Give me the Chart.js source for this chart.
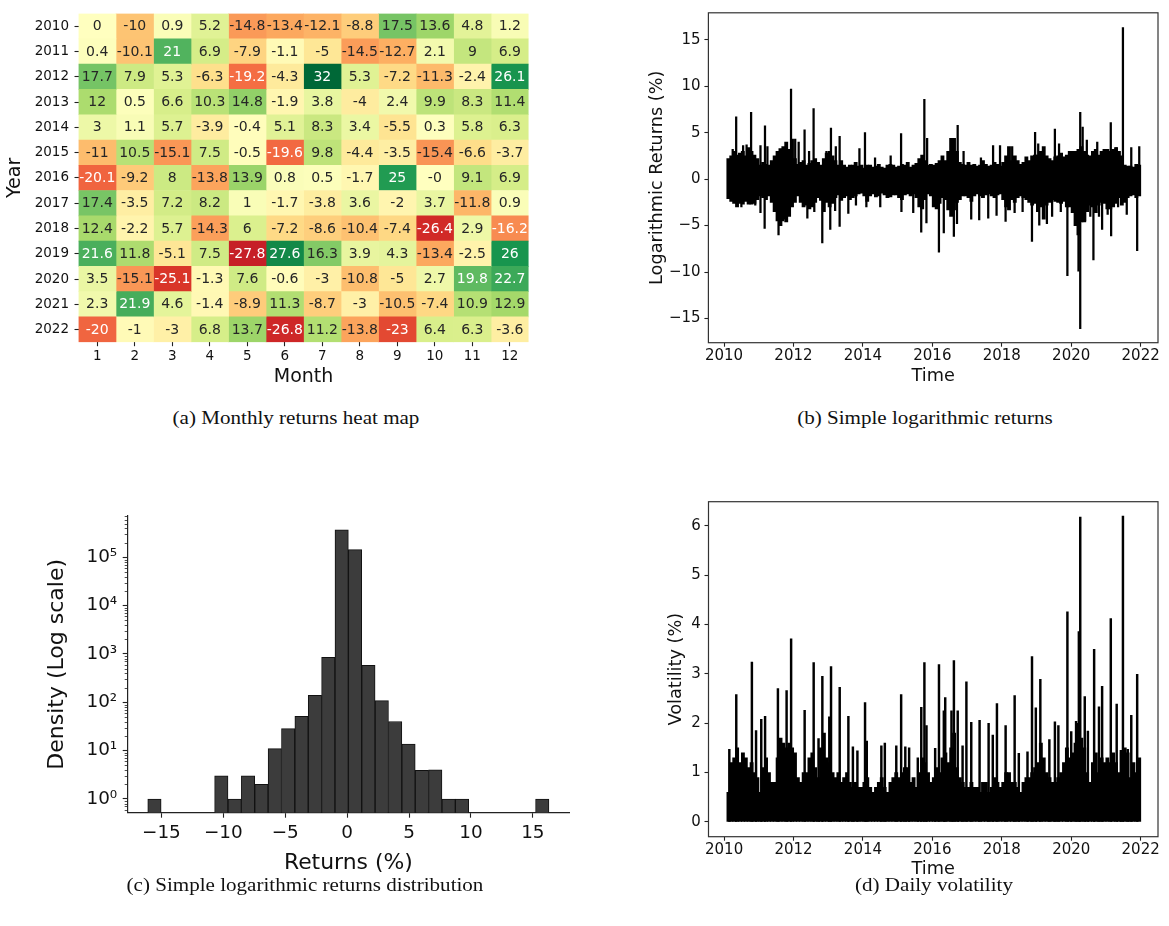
<!DOCTYPE html>
<html>
<head>
<meta charset="utf-8">
<script src="https://cdn.jsdelivr.net/npm/chart.js@4.4.0/dist/chart.umd.min.js"></script>
<style>
  body { margin: 0; background: #fff; width: 1169px; height: 926px; position: relative; overflow: hidden; }
  canvas { position: absolute; }
  .cap { position: absolute; font-family: 'Liberation Serif', 'Times New Roman', serif; font-size: 18px; line-height: 22px;
         color: #111; white-space: nowrap; transform: translateX(-50%) scaleX(1.17); }
</style>
</head>
<body>
<canvas id="heat" width="560" height="388" style="left:0;top:0"></canvas>
<canvas id="ret" width="540" height="387" style="left:630px;top:0"></canvas>
<canvas id="hist" width="600" height="406" style="left:0;top:470px"></canvas>
<canvas id="vol" width="540" height="420" style="left:630px;top:460px"></canvas>
<div class="cap" style="left:296px;top:407px">(a) Monthly returns heat map</div>
<div class="cap" style="left:925px;top:407px">(b) Simple logarithmic returns</div>
<div class="cap" style="left:305px;top:874px">(c) Simple logarithmic returns distribution</div>
<div class="cap" style="left:934px;top:874px">(d) Daily volatility</div>
<script>
// (a) monthly returns heat map
const years = ['2010', '2011', '2012', '2013', '2014', '2015', '2016', '2017', '2018', '2019', '2020', '2021', '2022'];
const months = [1, 2, 3, 4, 5, 6, 7, 8, 9, 10, 11, 12];
const monthly = [
  [0, -10, 0.9, 5.2, -14.8, -13.4, -12.1, -8.8, 17.5, 13.6, 4.8, 1.2],
  [0.4, -10.1, 21, 6.9, -7.9, -1.1, -5, -14.5, -12.7, 2.1, 9, 6.9],
  [17.7, 7.9, 5.3, -6.3, -19.2, -4.3, 32, 5.3, -7.2, -11.3, -2.4, 26.1],
  [12, 0.5, 6.6, 10.3, 14.8, -1.9, 3.8, -4, 2.4, 9.9, 8.3, 11.4],
  [3, 1.1, 5.7, -3.9, -0.4, 5.1, 8.3, 3.4, -5.5, 0.3, 5.8, 6.3],
  [-11, 10.5, -15.1, 7.5, -0.5, -19.6, 9.8, -4.4, -3.5, -15.4, -6.6, -3.7],
  [-20.1, -9.2, 8, -13.8, 13.9, 0.8, 0.5, -1.7, 25, -0, 9.1, 6.9],
  [17.4, -3.5, 7.2, 8.2, 1, -1.7, -3.8, 3.6, -2, 3.7, -11.8, 0.9],
  [12.4, -2.2, 5.7, -14.3, 6, -7.2, -8.6, -10.4, -7.4, -26.4, 2.9, -16.2],
  [21.6, 11.8, -5.1, 7.5, -27.8, 27.6, 16.3, 3.9, 4.3, -13.4, -2.5, 26],
  [3.5, -15.1, -25.1, -1.3, 7.6, -0.6, -3, -10.8, -5, 2.7, 19.8, 22.7],
  [2.3, 21.9, 4.6, -1.4, -8.9, 11.3, -8.7, -3, -10.5, -7.4, 10.9, 12.9],
  [-20, -1, -3, 6.8, 13.7, -26.8, 11.2, -13.8, -23, 6.4, 6.3, -3.6]
];

// (b) daily log returns: monthly band (low / high) from Feb 2010, plus individual spikes
const retHi = [
  2.2, 2.5, 3.0, 2.6, 2.8, 3.0, 2.5, 3.4, 3.0, 2.6, 2.2,
  1.5, 1.8, 1.6, 1.5, 2.0, 2.5, 3.0, 3.3, 3.5, 4.0, 3.2, 4.3,
  2.2, 1.6, 1.8, 2.0, 1.5, 1.7, 2.0, 2.2, 1.8, 1.5, 2.2, 2.8,
  3.0, 2.5, 2.0, 1.5, 2.0, 1.5, 1.3, 1.5, 1.5, 1.8, 1.4, 1.5,
  1.2, 1.5, 1.5, 1.3, 1.4, 1.6, 1.3, 1.2, 1.5, 1.6, 1.5, 1.3,
  1.4, 1.6, 1.5, 1.8, 1.3, 1.5, 1.7, 2.2, 2.6, 2.0, 1.5, 1.6,
  1.5, 1.7, 2.0, 2.5, 2.0, 3.0, 4.4, 4.4, 3.0, 1.8, 1.6, 1.5,
  1.8, 1.5, 1.6, 1.4, 1.5, 2.0, 1.6, 1.4, 1.5, 1.8, 1.6, 1.4,
  1.8, 2.5, 3.5, 2.0, 2.5, 2.0, 1.6, 1.8, 2.4, 2.0, 2.5, 2.6,
  2.6, 3.0, 3.5, 2.5, 2.2, 2.0, 2.4, 2.5, 2.8, 2.4, 2.6, 3.0,
  3.0, 3.0, 3.2, 3.5, 3.0, 2.6, 2.5, 3.0, 3.2, 2.6, 3.0, 3.2,
  3.2, 3.0, 3.2, 3.4, 3.0, 2.5, 1.5, 1.4, 1.4, 1.3, 1.6, 1.5
];
const retLo = [
  -2.1, -2.4, -2.6, -3.0, -2.6, -2.7, -2.4, -2.7, -2.7, -2.6, -2.2,
  -1.8, -2.0, -2.2, -1.8, -2.5, -3.5, -4.5, -5.0, -4.3, -4.6, -4.0, -3.0,
  -2.5, -1.8, -2.5, -3.0, -2.8, -3.2, -3.0, -2.5, -2.0, -2.3, -3.5, -2.5,
  -3.0, -2.6, -2.0, -1.7, -2.3, -2.0, -1.8, -2.2, -2.0, -1.8, -1.6, -1.5,
  -1.8, -2.4, -1.8, -1.6, -1.9, -1.8, -1.5, -1.7, -2.0, -1.9, -1.7, -1.7,
  -2.0, -2.2, -1.7, -1.6, -1.8, -1.6, -2.0, -3.0, -3.2, -2.2, -1.6, -1.8,
  -3.0, -3.2, -2.6, -2.0, -2.2, -3.3, -4.0, -3.3, -2.5, -2.2, -1.8, -1.8,
  -2.0, -2.4, -1.8, -1.6, -1.8, -2.0, -1.7, -1.6, -1.8, -2.0, -1.7, -1.6,
  -2.2, -3.0, -3.3, -2.2, -2.5, -2.0, -1.8, -2.0, -2.2, -2.5, -2.8, -2.6,
  -3.5, -3.0, -4.3, -2.8, -2.5, -2.2, -2.4, -2.5, -2.6, -2.4, -3.0, -3.0,
  -3.6, -5.0, -6.0, -4.6, -4.6, -3.5, -2.8, -3.0, -3.6, -2.8, -2.5, -2.6,
  -3.2, -3.2, -3.0, -2.6, -2.0, -2.8, -2.5, -2.0, -1.8, -1.7, -2.0, -1.8
];
const retSpikeT = [
  2010.25, 2010.35, 2010.55, 2010.65, 2010.78, 2011.05, 2011.18, 2011.25, 2011.80, 2011.93,
  2012.05, 2012.15, 2012.32, 2012.45, 2012.58, 2012.95, 2013.08, 2013.22, 2013.33, 2013.90,
  2014.06, 2014.35, 2014.80, 2015.10, 2015.77, 2015.85, 2016.55, 2016.73, 2016.90, 2017.40,
  2017.75, 2017.95, 2018.30, 2018.96, 2019.05, 2019.53, 2019.65, 2020.05, 2020.26, 2020.33,
  2020.45, 2020.75, 2021.14, 2021.30, 2021.49, 2021.73, 2021.96,
  2010.50, 2010.90, 2011.05, 2011.17, 2011.57, 2011.70, 2012.40, 2012.60, 2012.83, 2013.06,
  2013.20, 2013.33, 2013.58, 2013.80, 2014.10, 2014.50, 2015.11, 2015.45, 2015.68, 2015.83,
  2016.19, 2016.33, 2016.62, 2016.71, 2017.12, 2017.35, 2017.61, 2017.85, 2018.11, 2018.37,
  2018.60, 2018.87, 2019.08, 2019.30, 2019.45, 2019.70, 2019.89, 2020.21, 2020.26, 2020.40,
  2020.55, 2020.64, 2020.80, 2020.89, 2021.05, 2021.15, 2021.35, 2021.60, 2021.90
];
const retSpikeV = [
  3.2, 6.7, 3.6, 3.7, 7.2, 3.6, 5.75, 3.5, 3.6, 9.7,
  4.3, 4.0, 5.3, 3.0, 7.6, 3.0, 5.5, 3.5, 4.6, 3.3,
  5.0, 2.3, 2.5, 4.9, 8.6, 4.4, 4.4, 5.8, 3.0, 2.3,
  3.6, 3.6, 3.5, 5.05, 3.8, 5.4, 3.8, 3.0, 7.2, 5.6,
  4.2, 4.0, 6.1, 3.4, 16.3, 3.4, 3.5,
  -3.0, -2.8, -3.6, -5.3, -6.0, -4.5, -4.2, -3.5, -6.85, -5.4,
  -3.4, -5.1, -3.7, -2.8, -3.0, -3.0, -3.5, -3.6, -5.7, -4.7,
  -7.85, -5.8, -6.15, -4.8, -4.3, -4.4, -4.2, -3.9, -4.55, -3.6,
  -3.5, -6.7, -4.95, -4.8, -4.0, -3.5, -10.4, -9.9, -16.1, -4.5,
  -4.0, -8.7, -4.0, -5.4, -3.8, -6.1, -3.0, -3.8, -7.7
];

// (c) histogram of returns, log density
const histCenters = [-15.56, -14.48, -13.40, -12.32, -11.24, -10.16, -9.08, -8.00, -6.92, -5.84,
  -4.76, -3.68, -2.60, -1.52, -0.44, 0.64, 1.72, 2.80, 3.88, 4.96,
  6.04, 7.12, 8.20, 9.28, 10.36, 11.44, 12.52, 13.60, 14.68, 15.76];
const histDensity = [1, null, null, null, null, 3, 1, 3, 2, 11,
  28.5, 51, 140, 850, 368000, 144000, 583, 108, 40, 13.7,
  3.9, 4, 1, 1, null, null, null, null, null, 1];
const histTicks = [-15, -10, -5, 0, 5, 10, 15];
const logTicks = [1, 10, 100, 1000, 10000, 100000];
const logTickLabels = ['10⁰', '10¹', '10²', '10³', '10⁴', '10⁵'];

// (d) daily volatility: monthly band height from Feb 2010, plus spikes
const volHi = [
  0.6, 1.2, 1.3, 1.5, 1.2, 1.4, 1.3, 1.1, 1.2, 1.0, 0.9,
  0.6, 1.1, 1.3, 1.0, 0.8, 0.8, 1.3, 1.7, 1.6, 1.5, 1.6, 1.5,
  1.4, 0.9, 0.8, 1.0, 1.0, 1.3, 1.4, 1.1, 0.9, 1.5, 1.8, 1.3,
  1.2, 1.0, 0.9, 1.0, 0.8, 0.9, 1.0, 0.8, 0.7, 0.8, 0.7, 0.7,
  0.8, 0.9, 0.7, 0.6, 0.7, 0.8, 0.9, 0.7, 0.6, 0.8, 0.9, 1.0,
  0.9, 1.0, 1.1, 1.1, 0.8, 0.9, 0.7, 1.0, 1.3, 1.2, 1.0, 0.8,
  0.9, 1.1, 1.0, 1.3, 1.4, 1.2, 1.5, 1.8, 1.1, 0.9, 0.8, 0.7,
  0.7, 0.8, 0.7, 0.7, 0.6, 0.8, 0.8, 0.6, 0.7, 0.9, 0.8, 0.7,
  0.8, 1.0, 1.0, 0.8, 0.8, 0.7, 0.6, 0.8, 0.9, 0.9, 1.0, 1.1,
  1.2, 1.6, 1.3, 1.0, 0.9, 0.8, 0.8, 0.9, 1.0, 1.2, 1.5, 1.3,
  1.4, 1.6, 2.0, 1.7, 1.5, 1.0, 0.8, 1.2, 1.4, 1.0, 1.3, 1.2,
  1.3, 1.2, 1.4, 1.2, 1.0, 1.4, 1.5, 1.4, 0.9, 1.2, 1.0, 1.3
];
const volSpikeT = [
  2010.15, 2010.35, 2010.80, 2010.92, 2011.07, 2011.18, 2011.55, 2011.80, 2011.93, 2012.32,
  2012.58, 2012.72, 2012.83, 2013.03, 2013.08, 2013.33, 2013.58, 2013.71, 2013.84, 2014.06,
  2014.11, 2014.53, 2014.63, 2014.96, 2015.10, 2015.22, 2015.33, 2015.58, 2015.68, 2015.77,
  2015.83, 2016.08, 2016.19, 2016.33, 2016.37, 2016.55, 2016.62, 2016.73, 2016.87, 2016.98,
  2017.12, 2017.36, 2017.62, 2017.74, 2017.86, 2018.11, 2018.37, 2018.49, 2018.74, 2018.87,
  2018.98, 2019.11, 2019.37, 2019.53, 2019.63, 2019.89, 2020.00, 2020.14, 2020.22, 2020.26,
  2020.39, 2020.48, 2020.66, 2020.80, 2020.89, 2021.14, 2021.31, 2021.43, 2021.49, 2021.63,
  2021.73, 2021.90
];
const volSpikeV = [
  1.47, 2.58, 3.24, 1.85, 2.08, 2.14, 2.70, 2.66, 3.71, 2.26,
  3.23, 1.69, 2.95, 2.13, 3.15, 2.73, 2.14, 1.52, 1.44, 2.42,
  1.64, 1.54, 1.60, 1.54, 2.58, 1.52, 1.50, 1.30, 2.32, 3.23,
  1.95, 1.49, 3.19, 2.25, 2.52, 2.25, 3.27, 2.25, 1.54, 2.84,
  2.02, 2.06, 2.00, 1.76, 2.40, 1.95, 2.56, 1.39, 1.42, 3.35,
  2.31, 2.89, 1.67, 2.03, 1.95, 4.26, 1.83, 2.04, 3.86, 6.18,
  2.54, 1.84, 3.50, 2.33, 2.75, 4.12, 2.39, 1.45, 6.20, 1.47,
  2.16, 2.99
];

const yearTicks = [2010, 2012, 2014, 2016, 2018, 2020, 2022];
const retTicks = [-15, -10, -5, 0, 5, 10, 15];
const volTicks = [0, 1, 2, 3, 4, 5, 6];

// month centres, Feb 2010 onwards
const monthX = retHi.map((_, i) => 2010 + (i + 1.5) / 12);

Chart.defaults.font.family = 'DejaVu Sans';
Chart.defaults.color = '#111';
Chart.defaults.animation = false;
Chart.defaults.plugins.legend.display = false;
Chart.defaults.plugins.tooltip.enabled = false;

const minus = v => String(v).replace('-', '\u2212');
const setTicks = list => axis => { axis.ticks = list.map(v => ({ value: v })); };
const tickGrid = len => ({ display: true, drawOnChartArea: false, drawTicks: true, tickLength: len, tickColor: '#222', tickWidth: 1.1, offset: false });

// RdYlGn colormap, centred on zero
const rdylgnStops = ['#a50026', '#d73027', '#f46d43', '#fdae61', '#fee08b', '#ffffbf', '#d9ef8b', '#a6d96a', '#66bd63', '#1a9850', '#006837'];
const hex = h => [1, 3, 5].map(i => parseInt(h.slice(i, i + 2), 16));
function rdylgnRGB(v) {
  const t = Math.min(1, Math.max(0, (v + 32) / 64)) * 10;
  const i = Math.min(9, Math.floor(t)), f = t - i;
  const a = hex(rdylgnStops[i]), b = hex(rdylgnStops[i + 1]);
  return a.map((c, k) => Math.round(c + (b[k] - c) * f));
}
const rdylgn = v => 'rgb(' + rdylgnRGB(v).join(',') + ')';
function textColor(v) {
  const lin = rdylgnRGB(v).map(c => { c /= 255; return c <= 0.03928 ? c / 12.92 : Math.pow((c + 0.055) / 1.055, 2.4); });
  const lum = 0.2126 * lin[0] + 0.7152 * lin[1] + 0.0722 * lin[2];
  return lum > 0.408 ? '#262626' : '#ffffff';
}
const fmt = v => Object.is(v, -0) ? '-0' : String(v);

const cellLabels = {
  id: 'cellLabels',
  afterDatasetsDraw(chart) {
    const ctx = chart.ctx;
    ctx.save();
    ctx.font = '14px "DejaVu Sans"';
    ctx.textAlign = 'center';
    ctx.textBaseline = 'middle';
    chart.data.datasets.forEach((ds, c) => {
      chart.getDatasetMeta(c).data.forEach((bar, r) => {
        const v = monthly[r][c];
        ctx.fillStyle = textColor(v);
        ctx.fillText(fmt(v), (bar.x + bar.base) / 2, bar.y + 0.5);
      });
    });
    ctx.restore();
  }
};

const frame = {
  id: 'frame',
  afterDraw(chart) {
    const { ctx, chartArea: a } = chart;
    ctx.save();
    ctx.strokeStyle = '#333';
    ctx.lineWidth = 1.2;
    ctx.strokeRect(a.left, a.top, a.right - a.left, a.bottom - a.top);
    ctx.restore();
  }
};

const minorLogTicks = {
  id: 'minorLogTicks',
  afterDraw(chart) {
    const y = chart.scales.y, ctx = chart.ctx;
    ctx.save();
    ctx.strokeStyle = '#222';
    ctx.lineWidth = 0.8;
    for (let e = -1; e <= 5; e++) {
      for (let m = 2; m <= 9; m++) {
        const v = m * Math.pow(10, e);
        if (v < y.min || v > y.max) continue;
        const py = Math.round(y.getPixelForValue(v)) + 0.5;
        ctx.beginPath();
        ctx.moveTo(y.right - 3, py);
        ctx.lineTo(y.right, py);
        ctx.stroke();
      }
    }
    ctx.restore();
  }
};

// (a)
new Chart(document.getElementById('heat'), {
  type: 'bar',
  data: {
    labels: years,
    datasets: months.map((m, c) => ({
      data: years.map(() => [m - 0.5, m + 0.5]),
      backgroundColor: years.map((_, r) => rdylgn(monthly[r][c])),
      borderWidth: 0,
      grouped: false,
      barPercentage: 1,
      categoryPercentage: 1
    }))
  },
  options: {
    indexAxis: 'y',
    responsive: false,
    layout: { padding: { left: 4.1, top: 7.1, right: 31.4, bottom: 0 } },
    scales: {
      x: {
        type: 'linear', min: 0.5, max: 12.5, offset: false,
        afterBuildTicks: setTicks(months),
        afterFit: s => { s.height = 45.8; },
        ticks: { autoSkip: false, maxRotation: 0, padding: 2.4, font: { size: 13.5 }, callback: v => String(v) },
        grid: tickGrid(4),
        border: { display: false },
        title: { display: true, text: 'Month', font: { size: 19 }, padding: 0 }
      },
      y: {
        offset: true,
        afterFit: s => { s.width = 74.4; },
        ticks: { autoSkip: false, padding: 5.5, font: { size: 13.5 } },
        grid: tickGrid(4),
        border: { display: false },
        title: { display: true, text: 'Year', font: { size: 19 }, padding: 0 }
      }
    }
  },
  plugins: [cellLabels]
});

// (b)
new Chart(document.getElementById('ret'), {
  type: 'bar',
  data: {
    datasets: [
      { data: monthX.map((x, i) => ({ x, y: [retLo[i], retHi[i]] })), backgroundColor: '#000', barThickness: 3.2, grouped: false },
      { data: retSpikeT.map((x, i) => ({ x, y: [0, retSpikeV[i]] })), backgroundColor: '#000', barThickness: 1.6, grouped: false }
    ]
  },
  options: {
    responsive: false,
    layout: { padding: { left: 16.9, top: 7.3, right: 12, bottom: 0 } },
    scales: {
      x: {
        type: 'linear', min: 2009.55, max: 2022.5, offset: false,
        afterBuildTicks: setTicks(yearTicks),
        afterFit: s => { s.height = 44.3; },
        ticks: { autoSkip: false, maxRotation: 0, padding: 0.5, font: { size: 15 }, callback: v => String(v) },
        grid: tickGrid(4),
        border: { display: false },
        title: { display: true, text: 'Time', font: { size: 17.7 }, padding: 0 }
      },
      y: {
        type: 'linear', min: -17.6, max: 17.9,
        afterBuildTicks: setTicks(retTicks),
        afterFit: s => { s.width = 61.5; },
        ticks: { autoSkip: false, padding: 3.8, font: { size: 15 }, callback: v => minus(v) },
        grid: tickGrid(4),
        border: { display: false },
        title: { display: true, text: 'Logarithmic Returns (%)', font: { size: 17.7 }, padding: 0 }
      }
    }
  },
  plugins: [frame]
});

// (c)
new Chart(document.getElementById('hist'), {
  type: 'bar',
  data: {
    datasets: [{
      data: histCenters.map((x, i) => ({ x, y: histDensity[i] })),
      backgroundColor: '#3c3c3c',
      borderColor: '#111',
      borderWidth: 1,
      barPercentage: 1,
      categoryPercentage: 1
    }]
  },
  options: {
    responsive: false,
    layout: { padding: { left: 43.8, top: 46, right: 31, bottom: 0 } },
    scales: {
      x: {
        type: 'linear', min: -17.72, max: 17.92, offset: false,
        afterBuildTicks: setTicks(histTicks),
        afterFit: s => { s.height = 63.3; },
        ticks: { autoSkip: false, maxRotation: 0, padding: 4.6, font: { size: 18.4 }, callback: v => minus(v) },
        grid: tickGrid(5),
        border: { display: true, color: '#222', width: 1.2 },
        title: { display: true, text: 'Returns (%)', font: { size: 21.9 }, padding: 0 }
      },
      y: {
        type: 'logarithmic', min: 0.52, max: 715000,
        afterBuildTicks: setTicks(logTicks),
        afterFit: s => { s.width = 83.9; },
        ticks: { autoSkip: false, padding: 5.5, font: { size: 18.4 }, callback: (v, i) => logTickLabels[i] },
        grid: tickGrid(5),
        border: { display: true, color: '#222', width: 1.2 },
        title: { display: true, text: 'Density (Log scale)', font: { size: 22 }, padding: 0 }
      }
    }
  },
  plugins: [minorLogTicks]
});

// (d)
new Chart(document.getElementById('vol'), {
  type: 'bar',
  data: {
    datasets: [
      { data: monthX.map((x, i) => ({ x, y: [0, volHi[i]] })), backgroundColor: '#000', barThickness: 3.2, grouped: false },
      { data: volSpikeT.map((x, i) => ({ x, y: [0, volSpikeV[i]] })), backgroundColor: '#000', barThickness: 1.8, grouped: false }
    ]
  },
  options: {
    responsive: false,
    layout: { padding: { left: 35.9, top: 41.7, right: 12, bottom: 0 } },
    scales: {
      x: {
        type: 'linear', min: 2009.55, max: 2022.5, offset: false,
        afterBuildTicks: setTicks(yearTicks),
        afterFit: s => { s.height = 43.3; },
        ticks: { autoSkip: false, maxRotation: 0, padding: 0.5, font: { size: 15 }, callback: v => String(v) },
        grid: tickGrid(4),
        border: { display: false },
        title: { display: true, text: 'Time', font: { size: 17.7 }, padding: 0 }
      },
      y: {
        type: 'linear', min: -0.3, max: 6.49,
        afterBuildTicks: setTicks(volTicks),
        afterFit: s => { s.width = 42.6; },
        ticks: { autoSkip: false, padding: 3.8, font: { size: 15 }, callback: v => String(v) },
        grid: tickGrid(4),
        border: { display: false },
        title: { display: true, text: 'Volatility (%)', font: { size: 17.7 }, padding: 0 }
      }
    }
  },
  plugins: [frame]
});
</script>
</body>
</html>
